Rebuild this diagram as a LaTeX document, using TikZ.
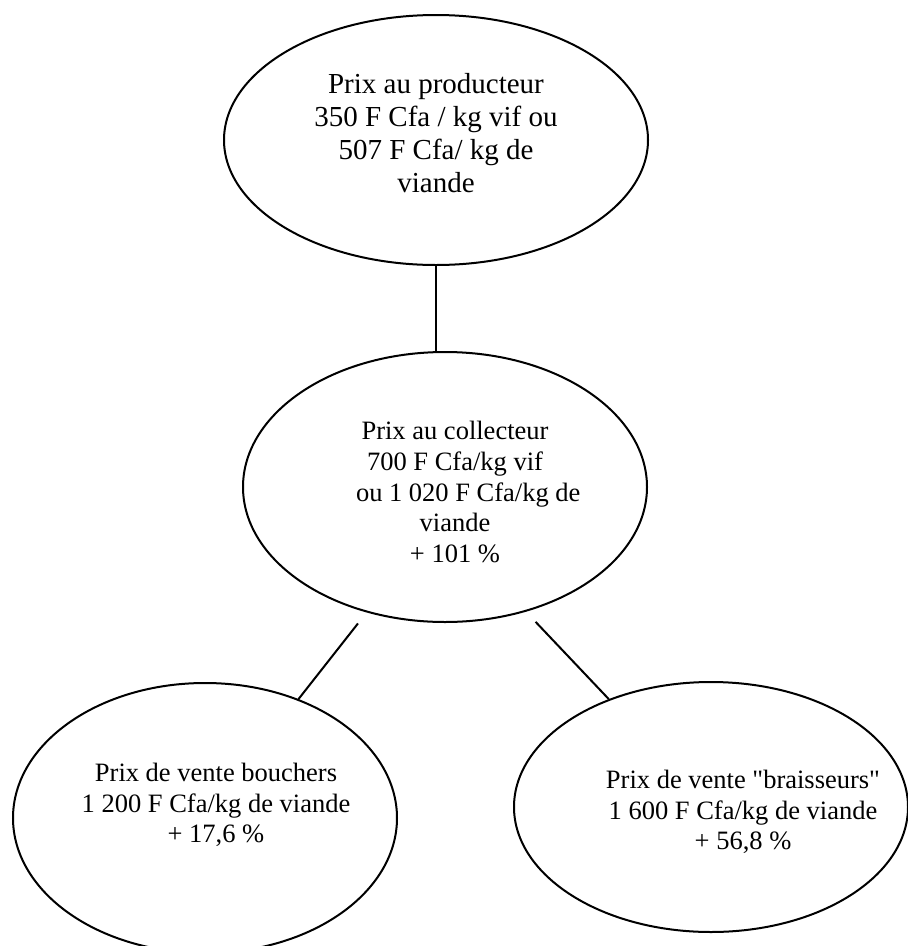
\documentclass[tikz,border=0pt]{standalone}
\usepackage{fontspec}
\setmainfont{Liberation Serif}[Ligatures=TeXOff]
\usetikzlibrary{shapes.geometric}

\begin{document}
\begin{tikzpicture}[
    x=1pt, y=-1pt,
    oval/.style={ellipse, draw, line width=2pt, inner sep=0pt},
    txt/.style={align=center, inner sep=0pt, font=\fontsize{26.5}{30.75}\selectfont},
    bigtxt/.style={align=center, inner sep=0pt, font=\fontsize{29}{33}\selectfont},
    link/.style={line width=2pt}
]
\useasboundingbox (0,0) rectangle (908,946);

% Producteur
\node[oval, minimum width=424pt, minimum height=250pt] (prod) at (436,140) {};
\node[bigtxt] (prodText) at (436,133) {Prix au producteur\\350 F Cfa / kg vif ou\\507 F Cfa/ kg de\\viande};

% Collecteur
\node[oval, minimum width=404pt, minimum height=270pt] (collect) at (445,487) {};
\node[txt] (collectText) at (455,492) {Prix au collecteur\\700 F Cfa/kg vif\\\hspace*{1em}ou 1 020 F Cfa/kg de\\viande\\+ 101 \%};

% Vente
\node[oval, minimum width=384pt, minimum height=270pt] (bouch) at (205,818) {};
\node[txt] (bouchText) at (216,805) {Prix de vente bouchers\\1 200 F Cfa/kg de viande\\+ 17,6 \%};

\node[oval, minimum width=394pt, minimum height=250pt] (bras) at (711,807) {};
\node[txt] (brasText) at (743,812) {Prix de vente "braisseurs"\\1 600 F Cfa/kg de viande\\+ 56,8 \%};

% Liens
\draw[link] (prod.south) -- (collect.north -| prod.south);
\draw[link, shorten <=14pt] (collect.-122) -- (bouch);
\draw[link, shorten <=14pt] (collect.-57.6) -- (bras);

\end{tikzpicture}
\end{document}
